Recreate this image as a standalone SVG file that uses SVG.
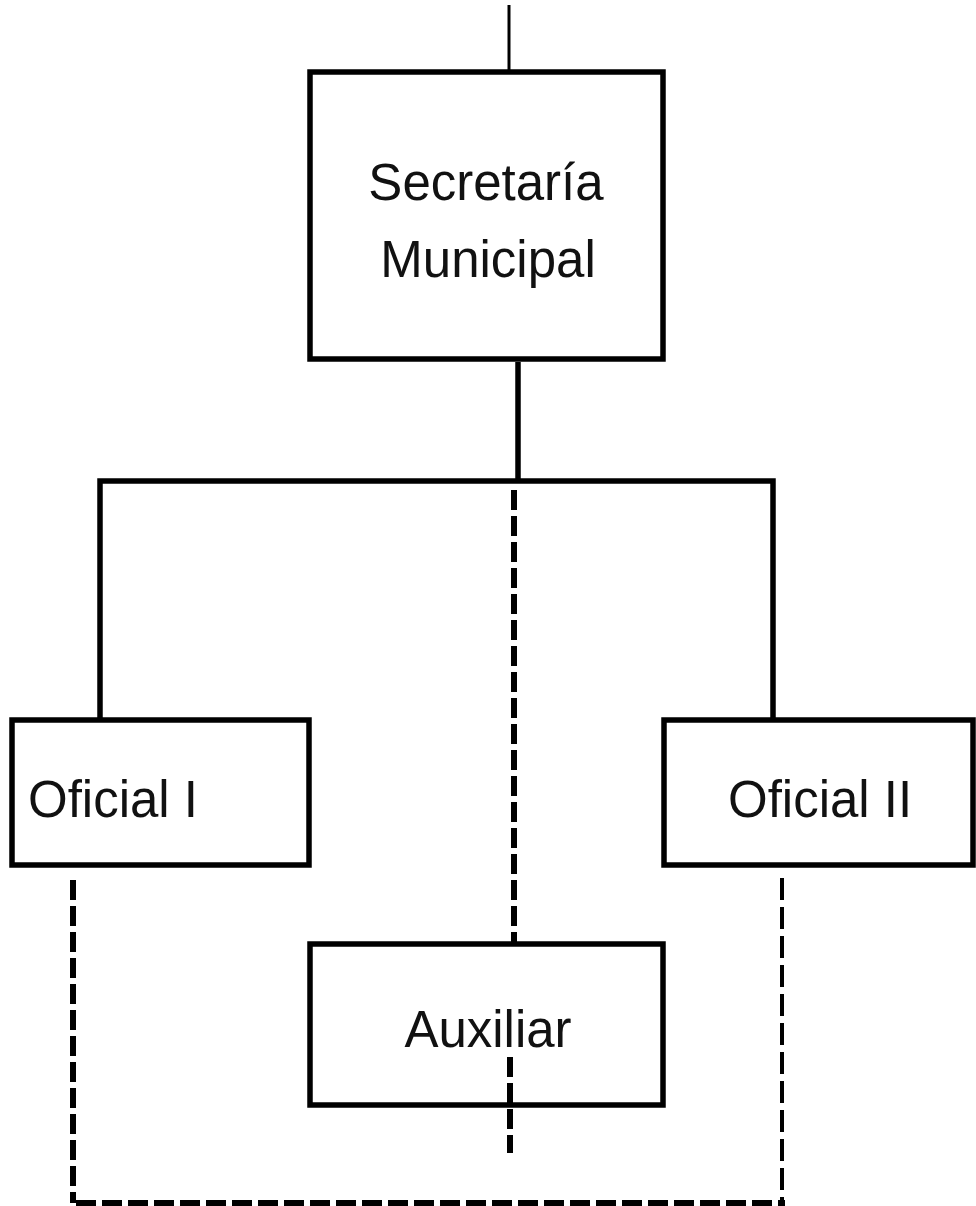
<svg xmlns="http://www.w3.org/2000/svg" width="976" height="1206" viewBox="0 0 976 1206">
  <style>
    .box { fill: #ffffff; stroke: #000000; stroke-width: 5.5; }
    .solid { fill: none; stroke: #000000; stroke-width: 5.5; }
    .thin { fill: none; stroke: #000000; stroke-width: 3; }
    .dash { fill: none; stroke: #000000; stroke-width: 6; stroke-dasharray: 20 6; }
    .dash-thin { fill: none; stroke: #000000; stroke-width: 4; stroke-dasharray: 22 7; }
    .label { font-family: "Liberation Sans", Arial, sans-serif; font-size: 51px; fill: #111111; }
  </style>
  <rect x="0" y="0" width="976" height="1206" fill="#ffffff"/>

  <!-- connectors -->
  <g id="connectors">
    <line class="thin" x1="509" y1="5" x2="509" y2="72"/>
    <line class="solid" x1="518" y1="362" x2="518" y2="481"/>
    <polyline class="solid" points="100,720 100,481 773,481 773,720"/>
    <line class="dash" x1="514" y1="490" x2="514" y2="944"/>
    <line class="dash" x1="73" y1="880" x2="73" y2="1203"/>
    <line class="dash-thin" x1="782" y1="878" x2="782" y2="1203"/>
    <line class="dash" x1="76" y1="1203" x2="785" y2="1203"/>
  </g>

  <g id="node-secretaria">
    <rect class="box" x="310" y="72" width="353" height="287"/>
    <text class="label" x="486" y="200" text-anchor="middle">Secretaría</text>
    <text class="label" x="488" y="277" text-anchor="middle">Municipal</text>
  </g>

  <g id="node-oficial-1">
    <rect class="box" x="12" y="720" width="297" height="145"/>
    <text class="label" x="28" y="817">Oficial I</text>
  </g>

  <g id="node-oficial-2">
    <rect class="box" x="664" y="720" width="309" height="145"/>
    <text class="label" x="728" y="817">Oficial II</text>
  </g>

  <g id="node-auxiliar">
    <rect class="box" x="310" y="944" width="353" height="161"/>
    <text class="label" x="488" y="1047" text-anchor="middle">Auxiliar</text>
  </g>

  <!-- dashed stub crossing the Auxiliar box -->
  <g id="connector-auxiliar-down">
    <line class="dash" x1="510" y1="1057" x2="510" y2="1153"/>
  </g>
</svg>
